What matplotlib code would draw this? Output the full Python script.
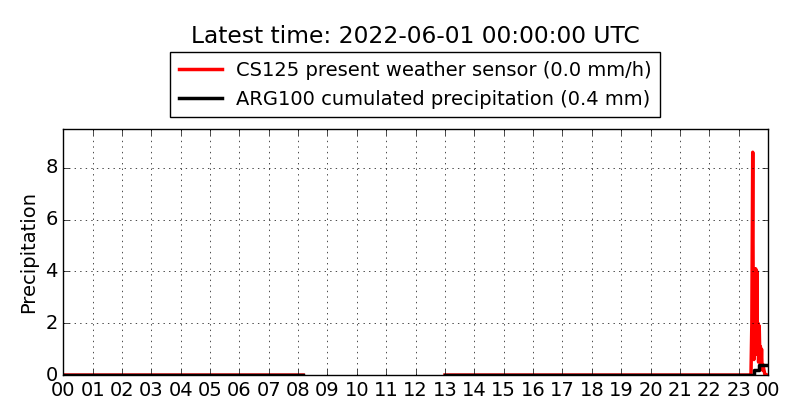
import numpy as np
import matplotlib
matplotlib.use("Agg")
import matplotlib.pyplot as plt

plt.style.use("classic")

# === DADOS (horas desde 00:00 UTC) ===
cs125_horas = [0.0, 8.17, np.nan, 13.0, 23.40, 23.42, 23.45, 23.48, 23.50, 23.52,
               23.54, 23.56, 23.58, 23.60, 23.62, 23.64, 23.66, 23.68, 23.70,
               23.72, 23.74, 23.76, 23.78, 23.80, 23.83, 23.86, 23.90, 23.95]
cs125_mmh = [0.0, 0.0, np.nan, 0.0, 0.0, 0.0, 2.0, 8.6, 1.5, 0.6,
             4.1, 1.2, 4.1, 0.8, 4.0, 1.0, 2.0, 0.5, 1.9,
             0.8, 1.1, 0.3, 1.0, 0.2, 0.4, 0.2, 0.0, 0.0]

arg100_horas = [0.0, 8.17, np.nan, 13.0, 23.53, 23.69, 24.0]
arg100_mm = [0.0, 0.0, np.nan, 0.0, 0.2, 0.4, 0.4]

rotulos_x = ["%02d" % (h % 24) for h in range(25)]

# === FIGURA ===
fig = plt.figure(figsize=(8, 4.2), dpi=100, facecolor="white")
ax = fig.add_axes([0.079, 0.107, 0.881, 0.586])

ax.plot(cs125_horas, cs125_mmh, color="red", lw=2.5,
        label="CS125 present weather sensor (0.0 mm/h)")
ax.plot(arg100_horas, arg100_mm, color="black", lw=2.5, drawstyle="steps-post",
        label="ARG100 cumulated precipitation (0.4 mm)")

ax.set_xlim(0, 24)
ax.set_ylim(0, 9.5)
ax.set_xticks(range(25))
ax.set_xticklabels(rotulos_x)
ax.set_yticks([0, 2, 4, 6, 8])
ax.tick_params(labelsize=14)
ax.set_ylabel("Precipitation", fontsize=14)
ax.grid(True)

fig.legend(*ax.get_legend_handles_labels(), loc="center",
           bbox_to_anchor=(0.519, 0.798), fontsize=14, numpoints=1,
           handlelength=2.2, borderpad=0.45, labelspacing=0.5,
           borderaxespad=0.3, handletextpad=0.7)
fig.suptitle("Latest time: 2022-06-01 00:00:00 UTC", fontsize=16.8,
             x=0.519, y=0.94)

fig.savefig("out.png", dpi=100, facecolor="white")
